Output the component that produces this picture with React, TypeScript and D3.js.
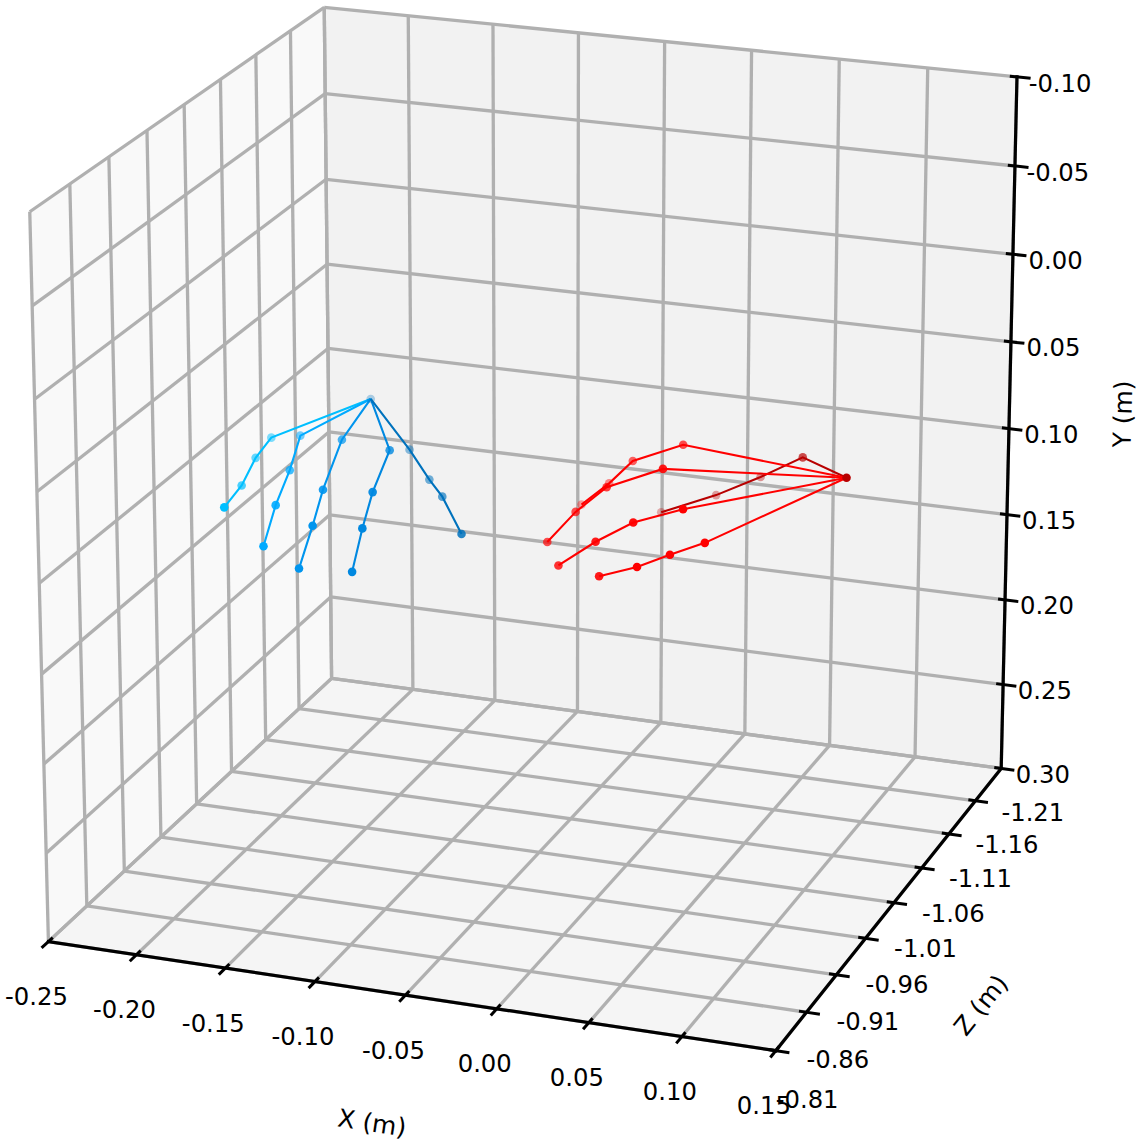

import * as d3 from "d3"

const xTicks = [-0.25, -0.2, -0.15, -0.1, -0.05, 0, 0.05, 0.1, 0.15]
const yTicks = [-0.1, -0.05, 0, 0.05, 0.1, 0.15, 0.2, 0.25, 0.3]
// the grid runs one step further back than the labels do, the labels one step further front
const zGrid = [-0.86, -0.91, -0.96, -1.01, -1.06, -1.11, -1.16, -1.21, -1.26]
const zLabels = [-0.81, -0.86, -0.91, -0.96, -1.01, -1.06, -1.11, -1.16, -1.21]

// wrist first, then four joints per finger
const blueX = [-0.169, -0.211, -0.212, -0.212, -0.197, -0.19, -0.18, -0.176, -0.175, -0.154, -0.149, -0.147, -0.155, -0.119, -0.117, -0.119, -0.125, -0.135, -0.116, -0.101, -0.075]
const blueY = [0.075, 0.089, 0.094, 0.103, 0.093, 0.082, 0.087, 0.096, 0.112, 0.07, 0.084, 0.097, 0.122, 0.065, 0.078, 0.095, 0.12, 0.09, 0.098, 0.099, 0.103]
const blueZ = [-1.12, -1.08, -1.06, -1.04, -0.98, -1.07, -1.03, -1.0, -0.98, -1.04, -1.0, -0.98, -0.98, -1.02, -0.99, -0.98, -0.98, -1.09, -1.07, -1.05, -1.01]
const redX = [0.139, 0.093, 0.048, 0.019, -0.016, 0.027, -0.008, -0.034, -0.058, 0.032, -0.011, -0.033, -0.049, 0.051, 0.02, -0.005, -0.034, 0.063, 0.044, 0.026, -0.003]
const redY = [0.042, 0.06, 0.099, 0.117, 0.135, 0.061, 0.081, 0.109, 0.132, 0.058, 0.085, 0.106, 0.125, 0.07, 0.085, 0.103, 0.128, 0.087, 0.096, 0.105, 0.122]
const redZ = [-1.0, -1.07, -1.137, -1.149, -1.16, -1.07, -1.09, -1.126, -1.149, -1.023, -1.057, -1.07, -1.07, -1.0, -1.011, -1.023, -1.046, -1.0, -1.0, -1.0, -1.023]

const blueFingerColors = ["#00bfff", "#00aaff", "#0095ee", "#0088e0", "#0072bd"]
const redFingerColors = ["#b80000", "#ff0000", "#ff0000", "#ff0000", "#ff0000"]

const WIDTH = 1140
const HEIGHT = 1145

// where the corners of the axes box landed on the page: [u, v, w, px, py]
const boxCorners = [
  [0, 0, 0, 48, 941],
  [1, 0, 0, 776, 1051],
  [1, 1, 0, 1001, 768],
  [0, 1, 0, 332, 679],
  [0, 1, 1, 324, 7],
  [1, 1, 1, 1017, 77],
  [0, 0, 1, 30, 212],
]

// Least squares fit of a 3x4 projective camera to the corners
function fitCamera() {
  const rows: number[][] = []
  const rhs: number[] = []
  boxCorners.forEach(([u, v, w, px, py]) => {
    const X = px / 1000
    const Y = py / 1000
    rows.push([u, v, w, 1, 0, 0, 0, 0, -X * u, -X * v, -X * w])
    rhs.push(X)
    rows.push([0, 0, 0, 0, u, v, w, 1, -Y * u, -Y * v, -Y * w])
    rhs.push(Y)
  })
  const n = 11
  const M = d3.range(n).map((i) => [
    ...d3.range(n).map((j) => d3.sum(rows, (r) => r[i] * r[j])),
    d3.sum(rows, (r, k) => r[i] * rhs[k]),
  ])
  for (let i = 0; i < n; i++) {
    let pivot = i
    for (let k = i + 1; k < n; k++) if (Math.abs(M[k][i]) > Math.abs(M[pivot][i])) pivot = k
    ;[M[i], M[pivot]] = [M[pivot], M[i]]
    for (let k = 0; k < n; k++) {
      if (k === i) continue
      const f = M[k][i] / M[i][i]
      for (let j = i; j <= n; j++) M[k][j] -= f * M[i][j]
    }
  }
  return M.map((r, i) => r[n] / r[i])
}

const cam = fitCamera()

function project(u: number, v: number, w: number): [number, number] {
  const d = cam[8] * u + cam[9] * v + cam[10] * w + 1
  return [
    (1000 * (cam[0] * u + cam[1] * v + cam[2] * w + cam[3])) / d,
    (1000 * (cam[4] * u + cam[5] * v + cam[6] * w + cam[7])) / d,
  ]
}

const xScale = d3.scaleLinear().domain([-0.25, 0.15]).range([0, 1])
const yScale = d3.scaleLinear().domain([0.3, -0.1]).range([0, 1])
const zScale = d3.scaleLinear().domain([-0.86, -1.26]).range([0, 1])

const path = d3.line()
const seg = (a: [number, number, number], b: [number, number, number]) =>
  path([project(...a), project(...b)]) as string
const poly = (pts: [number, number, number][]) => (path(pts.map((p) => project(...p))) + "Z") as string

const GRID = "#b0b0b0"
const FONT = "'DejaVu Sans', sans-serif"

function Hand({ xs, ys, zs, colors, wristColor, far, near }: any) {
  // stand-in for mplot3d's depth shading
  const alpha = d3.scaleLinear().domain([far, near]).range([0.3, 1]).clamp(true)
  const pos = (i: number) => project(xScale(xs[i]), zScale(zs[i]), yScale(ys[i]))
  const fingers = colors.map((c: string, f: number) => ({
    color: c,
    idx: [0, 1, 2, 3, 4].map((k) => (k === 0 ? 0 : f * 4 + k)),
  }))
  return (
    <g>
      {fingers.map((f: any, i: number) => (
        <path key={i} d={path(f.idx.map(pos)) as string} fill="none" stroke={f.color} strokeWidth={2.1} />
      ))}
      {fingers.map((f: any, i: number) =>
        f.idx.slice(1).map((k: number) => {
          const [cx, cy] = pos(k)
          return <circle key={i + "-" + k} cx={cx} cy={cy} r={4.3} fill={f.color} fillOpacity={alpha(zs[k])} />
        }),
      )}
      <circle cx={pos(0)[0]} cy={pos(0)[1]} r={4.3} fill={wristColor} fillOpacity={alpha(zs[0])} />
    </g>
  )
}

export default function App() {
  const lines: string[] = []
  xTicks.forEach((x) => {
    const u = xScale(x)
    lines.push(seg([u, 1, 0], [u, 1, 1]), seg([u, 0, 0], [u, 1, 0]))
  })
  yTicks.forEach((y) => {
    const w = yScale(y)
    lines.push(seg([0, 1, w], [1, 1, w]), seg([0, 0, w], [0, 1, w]))
  })
  zGrid.forEach((z) => {
    const v = zScale(z)
    lines.push(seg([0, v, 0], [0, v, 1]), seg([0, v, 0], [1, v, 0]))
  })

  return (
    <svg width={WIDTH} height={HEIGHT} style={{ position: "absolute", left: 0, top: 0 }}>
      <path d={poly([[0, 0, 0], [0, 1, 0], [0, 1, 1], [0, 0, 1]])} fill="#f9f9f9" />
      <path d={poly([[0, 1, 0], [1, 1, 0], [1, 1, 1], [0, 1, 1]])} fill="#f2f2f2" />
      <path d={poly([[0, 0, 0], [1, 0, 0], [1, 1, 0], [0, 1, 0]])} fill="#f5f5f5" />

      {lines.map((d, i) => (
        <path key={i} d={d} stroke={GRID} strokeWidth={3.3} fill="none" />
      ))}

      <g stroke="#000" strokeWidth={3.2} fill="none" strokeLinecap="square">
        <path d={seg([0, 0, 0], [1, 0, 0])} />
        <path d={seg([1, 0, 0], [1, 1, 0])} />
        <path d={seg([1, 1, 0], [1, 1, 1])} />
      </g>
      <g stroke="#000" strokeWidth={3} fill="none">
        {xTicks.map((x) => (
          <path key={x} d={seg([xScale(x), 0.014, 0], [xScale(x), -0.022, 0])} />
        ))}
        {zGrid.slice(0, -1).map((z) => (
          <path key={z} d={seg([0.99, zScale(z), 0], [1.018, zScale(z), 0])} />
        ))}
        {yTicks.map((y) => (
          <path key={y} d={seg([0.99, 1, yScale(y)], [1.019, 1, yScale(y)])} />
        ))}
      </g>

      <g fontFamily={FONT} fontSize={24.3} fill="#000" textAnchor="middle" dominantBaseline="central">
        {xTicks.map((x) => {
          const [px, py] = project(xScale(x), 0, 0)
          return (
            <text key={x} x={px - 12} y={py + 55}>
              {x.toFixed(2)}
            </text>
          )
        })}
        {zLabels.map((z) => {
          const [px, py] = project(1.082, zScale(z), 0)
          return (
            <text key={z} x={px} y={py + 4 * zScale(z)}>
              {z.toFixed(2)}
            </text>
          )
        })}
        {yTicks.map((y) => {
          const [px, py] = project(1.06, 1, yScale(y))
          return (
            <text key={y} x={px} y={py + 2 * yScale(y)}>
              {y.toFixed(2)}
            </text>
          )
        })}
      </g>
      <g fontFamily={FONT} fontSize={25} fill="#000" textAnchor="middle" dominantBaseline="central">
        <text transform="translate(372,1123) rotate(8.6)">X (m)</text>
        <text transform="translate(981,1005) rotate(-51)">Z (m)</text>
        <text transform="translate(1123,414) rotate(-88.5)">Y (m)</text>
      </g>

      <Hand xs={blueX} ys={blueY} zs={blueZ} colors={blueFingerColors} wristColor="#0072bd" far={-1.12} near={-0.98} />
      <Hand xs={redX} ys={redY} zs={redZ} colors={redFingerColors} wristColor="#b80000" far={-1.16} near={-1.0} />
    </svg>
  )
}
